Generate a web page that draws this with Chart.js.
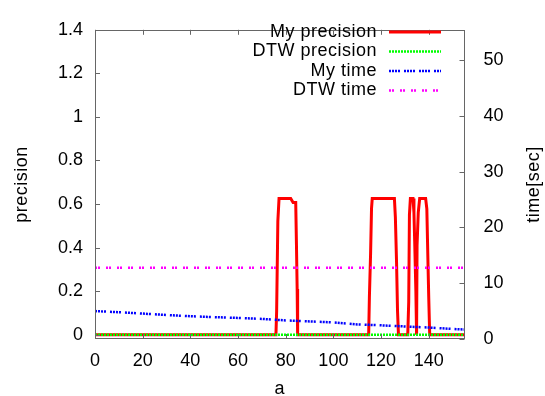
<!DOCTYPE html>
<html><head><meta charset="utf-8">
<script src="https://cdn.jsdelivr.net/npm/chart.js@4/dist/chart.umd.min.js"></script>
<style>html,body{margin:0;padding:0;background:#fff}#wrap{width:545px;height:396px;position:relative}</style>
</head><body><div id="wrap"><canvas id="c"></canvas></div>
<script>
// ---- data ----
const xTicks = [0, 20, 40, 60, 80, 100, 120, 140];
const yTicks = [0, 0.2, 0.4, 0.6, 0.8, 1, 1.2, 1.4];
const y2Ticks = [0, 10, 20, 30, 40, 50];
const seriesNames = ['My precision', 'DTW precision', 'My time', 'DTW time'];
const axisTitles = { x: 'a', y: 'precision', y2: 'time[sec]' };

const myPrecA = [0, 75.9, 76.2, 76.7, 77.2, 82.1, 83.1, 84.2, 84.5, 84.8, 85.0,
  114.8, 115.1, 115.6, 116.0, 116.3, 125.6, 126.0, 126.5, 126.9, 127.3,
  131.2, 131.6, 131.9, 132.3, 133.4, 133.8, 134.1, 134.6, 134.9, 135.1, 135.6, 136.2,
  138.7, 139.2, 139.6, 140.0, 140.4, 155];
const myPrecV = [0, 0, 0.11, 0.52, 0.625, 0.625, 0.607, 0.607, 0.42, 0.21, 0,
  0, 0.17, 0.37, 0.58, 0.625, 0.625, 0.54, 0.33, 0.11, 0,
  0, 0.15, 0.55, 0.625, 0.625, 0.56, 0.43, 0.2, 0, 0.41, 0.56, 0.625,
  0.625, 0.578, 0.37, 0.17, 0, 0];
const dtwPrecA = [0, 155];
const dtwPrecV = [0, 0];
const myTimeA = [0, 10, 20, 30, 40, 50, 60, 70, 80, 90, 100, 110, 120, 130, 140, 150, 155];
const myTimeV = [5.0, 4.8, 4.55, 4.3, 4.08, 3.92, 3.78, 3.6, 3.33, 3.15, 2.98, 2.62, 2.45, 2.25, 2.05, 1.8, 1.7];
const dtwTimeA = [0, 155];
const dtwTimeV = [12.75, 12.75];

// ---- styles ----
const FAMILY = '"Liberation Sans", Arial, sans-serif';
const FONT = '18px ' + FAMILY;
const styles = [
  { color: '#ff0000', width: 3, dash: [] , axis: 'y'},
  { color: '#00ff00', width: 2.5, dash: [2, 1], axis: 'y' },
  { color: '#0000ff', width: 2.5, dash: [2, 1, 2, 1, 2, 1, 2, 4], axis: 'y2' },
  { color: '#ff00ff', width: 2.5, dash: [2, 1, 2, 6], axis: 'y2' }
];
const pts = (a, v) => a.map((x, i) => ({ x: x, y: v[i] }));
const series = [pts(myPrecA, myPrecV), pts(dtwPrecA, dtwPrecV), pts(myTimeA, myTimeV), pts(dtwTimeA, dtwTimeV)];

const datasets = series.map((d, i) => ({
  label: seriesNames[i],
  data: d,
  yAxisID: styles[i].axis,
  borderColor: styles[i].color,
  borderWidth: styles[i].width,
  borderDash: styles[i].dash,
  pointRadius: 0,
  tension: 0,
  fill: false,
  order: 4 - i
}));

const frame = {
  id: 'frame',
  afterDraw(chart) {
    const { ctx, chartArea: a, scales } = chart;
    ctx.save();
    ctx.strokeStyle = '#666';
    ctx.lineWidth = 1;
    ctx.setLineDash([]);
    ctx.strokeRect(Math.round(a.left) + 0.5, Math.round(a.top) + 0.5,
      Math.round(a.right) - Math.round(a.left) - 1, Math.round(a.bottom) - Math.round(a.top) - 1);
    const L = 5;
    ctx.beginPath();
    xTicks.forEach(v => {
      const p = Math.round(scales.x.getPixelForValue(v)) + 0.5;
      ctx.moveTo(p, a.bottom); ctx.lineTo(p, a.bottom - L);
      ctx.moveTo(p, a.top); ctx.lineTo(p, a.top + L);
    });
    yTicks.forEach(v => {
      const p = Math.round(scales.y.getPixelForValue(v)) + 0.5;
      ctx.moveTo(a.left, p); ctx.lineTo(a.left + L, p);
    });
    y2Ticks.forEach(v => {
      const p = Math.round(scales.y2.getPixelForValue(v)) + 0.5;
      ctx.moveTo(a.right, p); ctx.lineTo(a.right - L, p);
    });
    ctx.stroke();

    // axis titles
    ctx.fillStyle = '#000';
    ctx.font = FONT;
    ctx.letterSpacing = '0.5px';
    ctx.textAlign = 'center';
    ctx.textBaseline = 'middle';
    ctx.fillText(axisTitles.x, (a.left + a.right) / 2, 389);
    const cy = (a.top + a.bottom) / 2;
    ctx.save(); ctx.translate(22, cy); ctx.rotate(-Math.PI / 2); ctx.fillText(axisTitles.y, 0, 0); ctx.restore();
    ctx.save(); ctx.translate(534, cy); ctx.rotate(-Math.PI / 2); ctx.fillText(axisTitles.y2, 0, 0); ctx.restore();

    // legend
    const rows = [32, 51.5, 71, 90.5];
    ctx.textAlign = 'right';
    seriesNames.forEach((n, i) => {
      ctx.fillStyle = '#000';
      ctx.fillText(n, 377, rows[i]);
      ctx.beginPath();
      ctx.strokeStyle = styles[i].color;
      ctx.lineWidth = styles[i].width;
      ctx.setLineDash(styles[i].dash);
      ctx.moveTo(389, rows[i]); ctx.lineTo(441, rows[i]);
      ctx.stroke();
    });
    ctx.restore();
  }
};

const tickFont = { family: FAMILY, size: 18 };
const fmt = v => String(Math.round(v * 10) / 10);

new Chart(document.getElementById('c'), {
  type: 'line',
  data: { datasets },
  options: {
    responsive: true,
    maintainAspectRatio: false,
    animation: false,
    devicePixelRatio: 1,
    layout: { padding: { top: 16, left: 0, right: 0, bottom: 0 } },
    plugins: { legend: { display: false }, tooltip: { enabled: false } },
    scales: {
      x: {
        type: 'linear', position: 'bottom', min: 0, max: 155,
        grid: { display: false, drawTicks: false }, border: { display: false },
        afterBuildTicks: s => { s.ticks = xTicks.map(v => ({ value: v })); },
        afterFit: s => { s.height = 57; },
        ticks: { font: tickFont, color: '#000', padding: 11, maxRotation: 0, autoSkip: false, callback: v => fmt(v) }
      },
      y: {
        type: 'linear', position: 'left', min: -0.02, max: 1.4,
        grid: { display: false, drawTicks: false }, border: { display: false },
        afterBuildTicks: s => { s.ticks = yTicks.map(v => ({ value: v })); },
        afterFit: s => { s.width = 95; },
        ticks: { font: tickFont, color: '#000', padding: 12, autoSkip: false, callback: v => fmt(v) }
      },
      y2: {
        type: 'linear', position: 'right', min: 0, max: 55.4,
        grid: { display: false, drawTicks: false }, border: { display: false },
        afterBuildTicks: s => { s.ticks = y2Ticks.map(v => ({ value: v })); },
        afterFit: s => { s.width = 80.5; },
        ticks: { font: tickFont, color: '#000', padding: 19, autoSkip: false, callback: v => fmt(v) }
      }
    }
  },
  plugins: [frame]
});
</script>
</body></html>
